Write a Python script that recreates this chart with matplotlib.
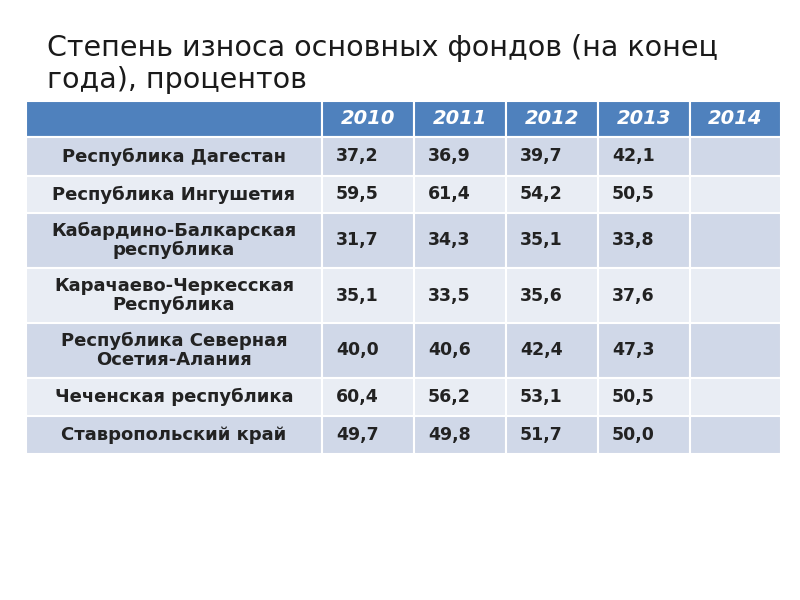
import matplotlib
matplotlib.use("Agg")
import matplotlib.pyplot as plt
from matplotlib.patches import Rectangle

years = ["2010", "2011", "2012", "2013", "2014"]
regions = ["Республика Дагестан", "Республика Ингушетия",
           "Кабардино-Балкарская\nреспублика", "Карачаево-Черкесская\nРеспублика",
           "Республика Северная\nОсетия-Алания", "Чеченская республика",
           "Ставропольский край"]
values = [
    ["37,2", "36,9", "39,7", "42,1", ""],
    ["59,5", "61,4", "54,2", "50,5", ""],
    ["31,7", "34,3", "35,1", "33,8", ""],
    ["35,1", "33,5", "35,6", "37,6", ""],
    ["40,0", "40,6", "42,4", "47,3", ""],
    ["60,4", "56,2", "53,1", "50,5", ""],
    ["49,7", "49,8", "51,7", "50,0", ""],
]
title = "Степень износа основных фондов (на конец\nгода), процентов"

fig = plt.figure(figsize=(8, 6), dpi=100)
ax = fig.add_axes([0, 0, 1, 1])
ax.set_xlim(0, 800); ax.set_ylim(600, 0); ax.axis("off")

ax.text(47, 64, title, fontsize=20.5, color="#1a1a1a", va="center", ha="left",
        linespacing=1.2, family="DejaVu Sans")

col_x = [26, 322, 414, 506, 598, 690, 781]
row_y = [101, 137, 176, 213, 268, 323, 378, 416, 454]
header = "#4F81BD"
shades = ["#D0D8E8", "#E9EDF4"]

for c in range(6):
    ax.add_patch(Rectangle((col_x[c], row_y[0]), col_x[c+1]-col_x[c], row_y[1]-row_y[0],
                           facecolor=header, edgecolor="white", lw=1.5))
for j, y in enumerate(years):
    ax.text((col_x[j+1]+col_x[j+2])/2, (row_y[0]+row_y[1])/2, y, color="white",
            fontsize=14, fontweight="bold", fontstyle="italic", ha="center", va="center")

for i, reg in enumerate(regions):
    y0, y1 = row_y[i+1], row_y[i+2]
    for c in range(6):
        ax.add_patch(Rectangle((col_x[c], y0), col_x[c+1]-col_x[c], y1-y0,
                               facecolor=shades[i % 2], edgecolor="white", lw=1.5))
    ax.text((col_x[0]+col_x[1])/2, (y0+y1)/2, reg, fontsize=13, fontweight="bold",
            color="#222222", ha="center", va="center", linespacing=1.05)
    for j, v in enumerate(values[i]):
        ax.text(col_x[j+1]+14, (y0+y1)/2, v, fontsize=12.5, fontweight="bold",
                color="#222222", ha="left", va="center")

fig.savefig("out.png", dpi=100)
